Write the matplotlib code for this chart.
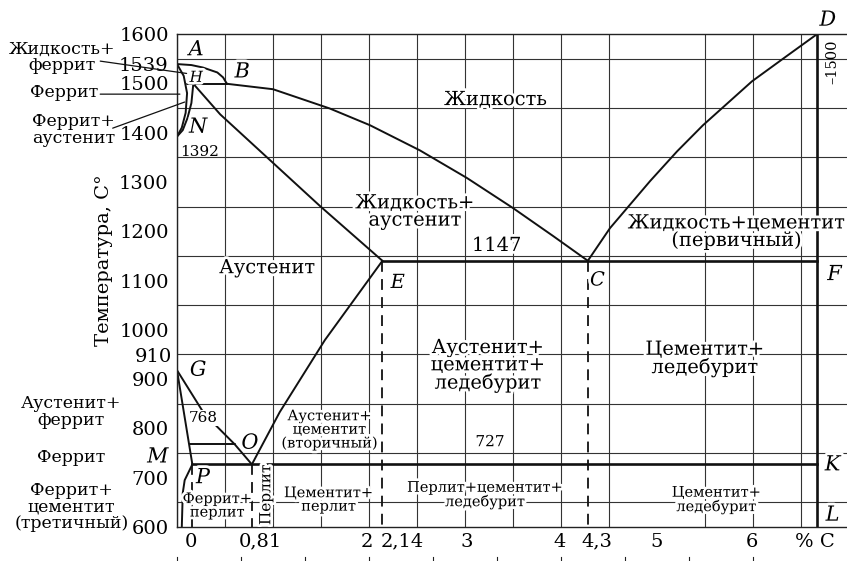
import numpy as np
import matplotlib
matplotlib.use("Agg")
import matplotlib.pyplot as plt
import matplotlib.patheffects as pe

plt.rcParams['font.family'] = ['DejaVu Serif']

# phase boundaries, %C vs temperature
ab_c = [0, 0.15, 0.27, 0.42, 0.48, 0.52]
ab_t = [1539, 1537, 1532, 1522, 1512, 1499]
bc_c = [0.52, 1.0, 1.59, 2.01, 2.53, 3.02, 3.5, 3.92, 4.28]
bc_t = [1499, 1488, 1449, 1415, 1364, 1308, 1247, 1190, 1140]
cd_c = [4.28, 4.51, 4.93, 5.21, 5.48, 5.99, 6.35, 6.67]
cd_t = [1140, 1206, 1302, 1362, 1415, 1504, 1555, 1600]
ahn_c = [0, 0.07, 0.105, 0.09, 0.05, 0]
ahn_t = [1539, 1515, 1480, 1440, 1410, 1392]
jn_c = [0.17, 0.15, 0.11, 0.06, 0]
jn_t = [1499, 1460, 1430, 1405, 1392]
hjb_c = [0.1, 0.52]
hjb_t = [1499, 1499]
je_c = [0.17, 0.45, 1.49, 2.14]
je_t = [1499, 1437, 1251, 1140]
ecf_c = [2.14, 6.67]
ecf_t = [1140, 1140]
gs_c = [0, 0.26, 0.40, 0.6, 0.78]
gs_t = [918, 837, 807, 768, 727]
gp_c = [0, 0.16]
gp_t = [918, 727]
pq_c = [0.16, 0.08, 0.06, 0.05]
pq_t = [727, 695, 669, 600]
mo_c = [0.14, 0.6]
mo_t = [768, 768]
se_c = [0.78, 1.07, 1.54, 2.14]
se_t = [727, 833, 979, 1140]
psk_c = [0.16, 6.67]
psk_t = [727, 727]
dl_c = [6.67, 6.67]
dl_t = [1600, 600]
dashed_c = [0.16, 0.78, 2.14, 4.28]
dashed_top = [727, 727, 1140, 1140]

xtick_pos = [0.15, 0.87, 1.98, 2.35, 3.02, 3.99, 4.37, 5.0, 5.99, 6.65]
xtick_lab = ["0", "0,81", "2", "2,14", "3", "4", "4,3", "5", "6", "% C"]
ytick_val = [600, 700, 800, 900, 1000, 1100, 1200, 1300, 1400, 1500, 1539, 1600]
fe3c_pct = [0, 10, 20, 30, 40, 50, 60, 70, 80, 90]

halo = [pe.withStroke(linewidth=4, foreground='white')]

fig = plt.figure(figsize=(8.47, 5.61), dpi=100)
ax = fig.add_axes([177/847, (561-527)/561, 1 - 177/847, 493/561])
ax.set_xlim(0, 6.98)
ax.set_ylim(600, 1600)

# grid
ax.set_xticks(np.arange(0, 7.0, 0.5), minor=True)
ax.set_yticks(np.arange(600, 1601, 50), minor=True)
ax.grid(which='minor', color='#333333', lw=0.8)
ax.set_xticks(xtick_pos)
ax.set_xticklabels(xtick_lab, fontsize=14)
ax.set_yticks(ytick_val)
ax.set_yticklabels([str(v) for v in ytick_val], fontsize=14)
ax.tick_params(which='both', length=0)
ax.tick_params(axis='x', pad=4)
ax.tick_params(axis='y', pad=6)
ax.spines['right'].set_visible(False)
for s in ['left', 'bottom', 'top']:
    ax.spines[s].set_linewidth(1.0)
    ax.spines[s].set_color('#222222')

# extra y label 910 (shifted above 900)
ax.text(-0.05, 945, "910", ha='right', va='center', fontsize=14)

lk = dict(color='#111111', lw=1.4, solid_capstyle='round', solid_joinstyle='round')
for c, t in [(ab_c, ab_t), (bc_c, bc_t), (cd_c, cd_t), (ahn_c, ahn_t), (jn_c, jn_t),
             (hjb_c, hjb_t), (je_c, je_t), (gs_c, gs_t), (gp_c, gp_t), (pq_c, pq_t),
             (mo_c, mo_t), (se_c, se_t)]:
    ax.plot(c, t, **lk)
for c, t in [(ecf_c, ecf_t), (psk_c, psk_t), (dl_c, dl_t)]:
    ax.plot(c, t, color='#111111', lw=1.9)
for c, top in zip(dashed_c, dashed_top):
    ax.plot([c, c], [top, 600], color='#111111', lw=1.3, dashes=(6, 4))

# cementite scale ticks under the axis
trans = ax.get_xaxis_transform()
for p in fe3c_pct:
    ax.plot([p * 6.67 / 100] * 2, [-0.061, -0.08], transform=trans, color='#222222',
            lw=0.8, clip_on=False)

# point letters
letters = [("A", 0.2, 1568, 15), ("B", 0.68, 1523, 15), ("H", 0.2, 1511, 11),
           ("N", 0.22, 1411, 15), ("G", 0.22, 918, 15), ("O", 0.76, 770, 15),
           ("M", -0.2, 742, 15), ("P", 0.27, 700, 15), ("E", 2.3, 1095, 14),
           ("C", 4.38, 1100, 14), ("F", 6.85, 1112, 15), ("K", 6.83, 726, 15),
           ("L", 6.83, 624, 15), ("D", 6.78, 1628, 15)]
for s, x, y, fs in letters:
    ax.text(x, y, s, fontsize=fs, fontstyle='italic', ha='center', va='center',
            clip_on=False, path_effects=halo)

# temperatures inside
ax.text(0.24, 1361, "1392", fontsize=11, ha='center', va='center')
ax.text(3.33, 1170, "1147", fontsize=14, ha='center', va='center', path_effects=halo)
ax.text(0.27, 821, "768", fontsize=11, ha='center', va='center',
        bbox=dict(facecolor='white', edgecolor='none', pad=0.5))
ax.text(3.26, 772, "727", fontsize=11, ha='center', va='center', path_effects=halo)
ax.text(6.83, 1543, "–1500", fontsize=10.5, rotation=90, ha='center', va='center',
        clip_on=False)

# region labels
big = [("Жидкость", 3.32, 1466), ("Жидкость+\nаустенит", 2.48, 1239),
       ("Жидкость+цементит\n(первичный)", 5.83, 1198), ("Аустенит", 0.94, 1125),
       ("Аустенит+\nцементит+\nледебурит", 3.24, 927), ("Цементит+\nледебурит", 5.5, 941)]
for s, x, y in big:
    ax.text(x, y, s, fontsize=14, ha='center', va='center', linespacing=0.95,
            path_effects=halo, clip_on=False)
small = [("Аустенит+\nцементит\n(вторичный)", 1.59, 797), ("Феррит+\nперлит", 0.42, 643),
         ("Цементит+\nперлит", 1.58, 655), ("Перлит+цементит+\nледебурит", 3.21, 665),
         ("Цементит+\nледебурит", 5.62, 655)]
for s, x, y in small:
    ax.text(x, y, s, fontsize=10.5, ha='center', va='center', linespacing=0.95,
            path_effects=halo)
ax.text(0.93, 665, "Перлит", fontsize=11, rotation=90, ha='center', va='center',
        path_effects=halo)

# left side labels
lead = dict(arrowstyle='-', color='#111111', lw=0.9, shrinkA=0, shrinkB=0)
ax.text(-1.2, 1553, "Жидкость+\nферрит", fontsize=12.5, ha='center', va='center',
        linespacing=0.95, clip_on=False)
ax.annotate("", xy=(0.1, 1520), xytext=(-0.8, 1545), annotation_clip=False, arrowprops=lead)
ax.text(-1.18, 1482, "Феррит", fontsize=12.5, ha='center', va='center', clip_on=False)
ax.annotate("", xy=(0.03, 1478), xytext=(-0.8, 1478), annotation_clip=False, arrowprops=lead)
ax.text(-1.08, 1405, "Феррит+\nаустенит", fontsize=12.5, ha='center', va='center',
        linespacing=0.95, clip_on=False)
ax.annotate("", xy=(0.08, 1462), xytext=(-0.67, 1409), annotation_clip=False, arrowprops=lead)
ax.text(-1.1, 833, "Аустенит+\nферрит", fontsize=12.5, ha='center', va='center',
        linespacing=0.95, clip_on=False)
ax.text(-1.1, 741, "Феррит", fontsize=12.5, ha='center', va='center', clip_on=False)
ax.text(-1.1, 640, "Феррит+\nцементит\n(третичный)", fontsize=12.5, ha='center',
        va='center', linespacing=0.95, clip_on=False)

ax.text(-0.76, 1142, "Температура, C°", fontsize=14, rotation=90, ha='center',
        va='center', clip_on=False)

fig.savefig("out.png", dpi=100)
